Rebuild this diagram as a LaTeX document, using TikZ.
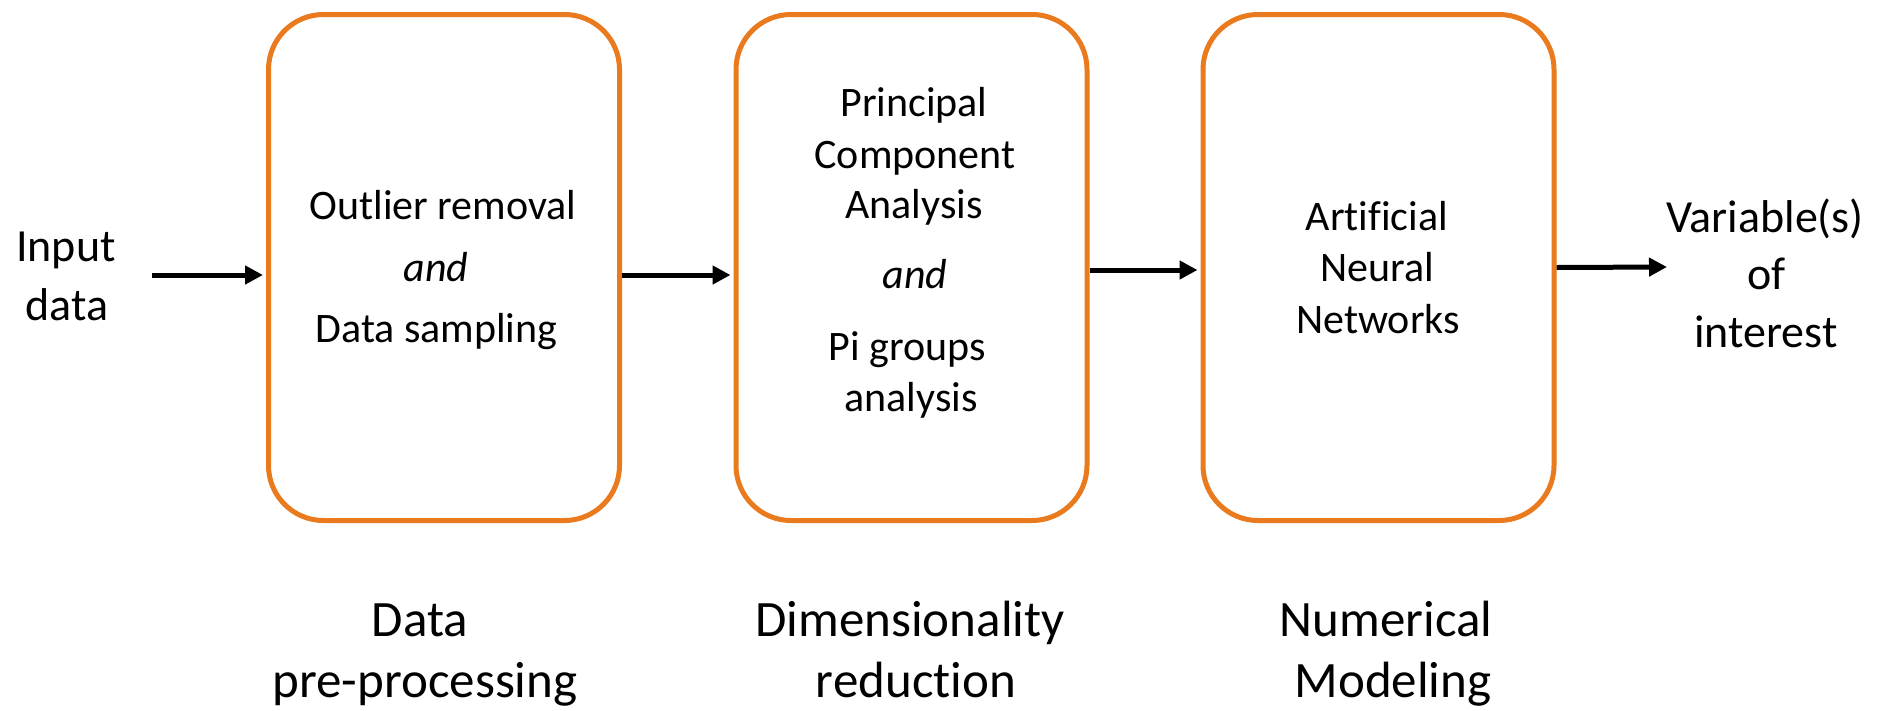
\documentclass[tikz,border=0pt]{standalone}
\usepackage{fontspec}
\setmainfont{Carlito}[Ligatures=NoCommon]
\usetikzlibrary{arrows.meta}
\definecolor{boxorange}{RGB}{233,122,30}
\begin{document}
\begin{tikzpicture}[x=1pt,y=-1pt,
  stagebox/.style={draw=boxorange, line width=5pt, rounded corners=55pt,
    minimum width=351pt, minimum height=506pt, inner sep=0pt},
  boxtext/.style={font=\fontsize{42}{50}\selectfont, anchor=base, inner sep=0pt},
  sidetext/.style={font=\fontsize{46}{56}\selectfont, anchor=base, inner sep=0pt},
  stagetext/.style={font=\fontsize{51}{62}\selectfont, anchor=base, inner sep=0pt},
  flow/.style={line width=5pt, -{Triangle[length=18pt,width=18pt]}}]
\useasboundingbox (0,0) rectangle (1877,710);
% boxes
\node[stagebox] (b1) at (444,267.5) {};
\node[stagebox] (b2) at (911.5,267.5) {};
\node[stagebox] (b3) at (1378.5,267.5) {};
% box 1 text
\node[boxtext] (t11) at (443,219) {Outlier removal};
\node[boxtext] (t12) at (436,281) {\itshape and};
\node[boxtext] (t13) at (436.5,342) {Data sampling};
% box 2 text
\node[boxtext] (t21) at (914,116.5) {Principal};
\node[boxtext] (t22) at (915,168) {Component};
\node[boxtext] (t23) at (914,218) {Analysis};
\node[boxtext] (t24) at (915,288) {\itshape and};
\node[boxtext] (t25) at (907,360) {Pi groups};
\node[boxtext] (t26) at (911,411) {analysis};
% box 3 text
\node[boxtext] (t31) at (1377,230) {Artificial};
\node[boxtext] (t32) at (1377.5,281) {Neural};
\node[boxtext] (t33) at (1378,333) {Networks};
% input / output text
\node[sidetext] (in1) at (66,261) {Input};
\node[sidetext] (in2) at (67,320) {data};
\node[sidetext] (out1) at (1765,232) {Variable(s)};
\node[sidetext] (out2) at (1766.5,289) {of};
\node[sidetext] (out3) at (1766,347) {interest};
% stage labels
\node[stagetext] (s11) at (420,636) {Data};
\node[stagetext] (s12) at (425,697) {pre-processing};
\node[stagetext] (s21) at (910,636) {Dimensionality};
\node[stagetext] (s22) at (916,697) {reduction};
\node[stagetext] (s31) at (1386,636) {Numerical};
\node[stagetext] (s32) at (1393,697) {Modeling};
% connectors
\coordinate (instart) at (152,275);
\coordinate (outend) at (1667,267);
\draw[flow] (instart) -- ([xshift=-3pt,yshift=-7.5pt]b1.west);
\draw[flow] ([yshift=-7.5pt]b1.east) -- ([xshift=-3pt,yshift=-7.5pt]b2.west);
\draw[flow] ([yshift=-2.5pt]b2.east) -- ([xshift=-3pt,yshift=-2.5pt]b3.west);
\draw[flow] (b3.east) -- (outend);
\end{tikzpicture}
\end{document}
